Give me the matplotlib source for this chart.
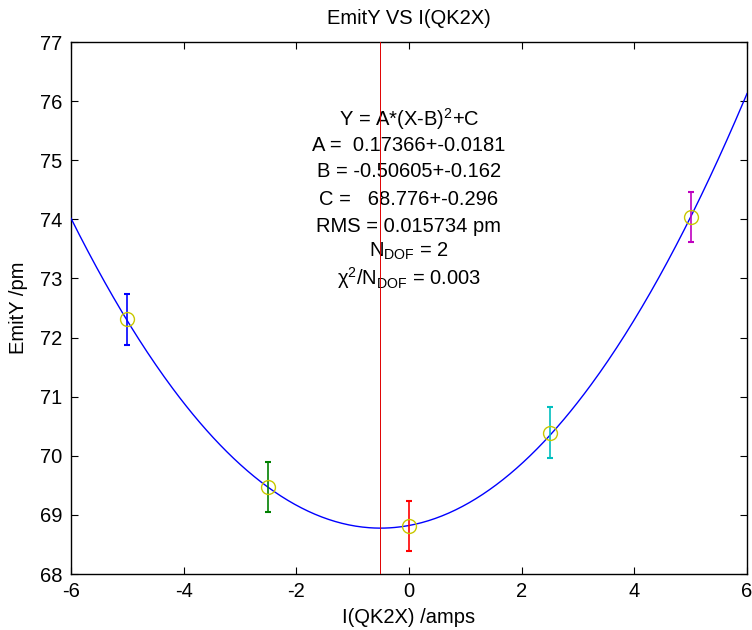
import numpy as np
import matplotlib
matplotlib.use("Agg")
import matplotlib.pyplot as plt

plt.rcParams["font.family"] = ["Liberation Sans", "DejaVu Sans"]
plt.rcParams["mathtext.fontset"] = "custom"
plt.rcParams["mathtext.rm"] = "Liberation Sans"
plt.rcParams["mathtext.it"] = "Liberation Sans:italic"
plt.rcParams["axes.unicode_minus"] = False

# measured points
current = [-5.0, -2.5, 0.0, 2.5, 5.0]
emit_y = [72.31, 69.47, 68.81, 70.39, 74.04]
emit_err = [0.43, 0.42, 0.42, 0.43, 0.43]
bar_colors = ["#0000FF", "#008000", "#FF0000", "#00BFBF", "#BF00BF"]

# fit Y = A*(X-B)^2 + C
fit_a = 0.17366
fit_b = -0.50605
fit_c = 68.776

fit_lines = [
    r"Y = A*(X-B)$^{\mathregular{2}}$+C",
    "A =  0.17366+-0.0181",
    "B = -0.50605+-0.162",
    "C =   68.776+-0.296",
    "RMS = 0.015734 pm",
    r"N$_{\mathregular{DOF}}$ = 2",
    r"χ$^{\mathregular{2}}$/N$_{\mathregular{DOF}}$ = 0.003",
]
line_y = [75.70, 75.25, 74.81, 74.33, 73.88, 73.46, 73.0]

FS = 14.5

fig = plt.figure(figsize=(7.52, 6.3), dpi=100)
ax = fig.add_axes([71 / 752, 56 / 630, 676 / 752, 532 / 630])

xs = np.linspace(-6, 6, 400)
ax.plot(xs, fit_a * (xs - fit_b) ** 2 + fit_c, color="#0000FF", lw=1.0, zorder=3)

for x, y, e, c in zip(current, emit_y, emit_err, bar_colors):
    ax.errorbar(x, y, yerr=e, color=c, lw=1.2, capsize=2.2, capthick=1.5, zorder=4)
    ax.plot(x, y, "o", mfc="none", mec="#C8C800", ms=10, mew=1.0, zorder=5)

ax.axvline(fit_b, color="#E00000", lw=0.7, zorder=6)

for txt, y in zip(fit_lines, line_y):
    ax.text(0.0, y, txt, ha="center", va="center", fontsize=FS, zorder=1)

ax.set_xlim(-6, 6)
ax.set_ylim(68, 77)
ax.set_xticks(np.arange(-6, 7, 2))
ax.set_yticks(np.arange(68, 78, 1))
ax.tick_params(direction="in", length=5, width=0.8, top=True, right=True,
               labelsize=FS, pad=6)
for s in ax.spines.values():
    s.set_linewidth(1.0)

ax.set_title("EmitY VS I(QK2X)", fontsize=FS, pad=13)
ax.set_xlabel("I(QK2X) /amps", fontsize=FS, labelpad=5)
ax.set_ylabel("EmitY /pm", fontsize=FS, labelpad=9)

fig.savefig("out.png", dpi=100)
